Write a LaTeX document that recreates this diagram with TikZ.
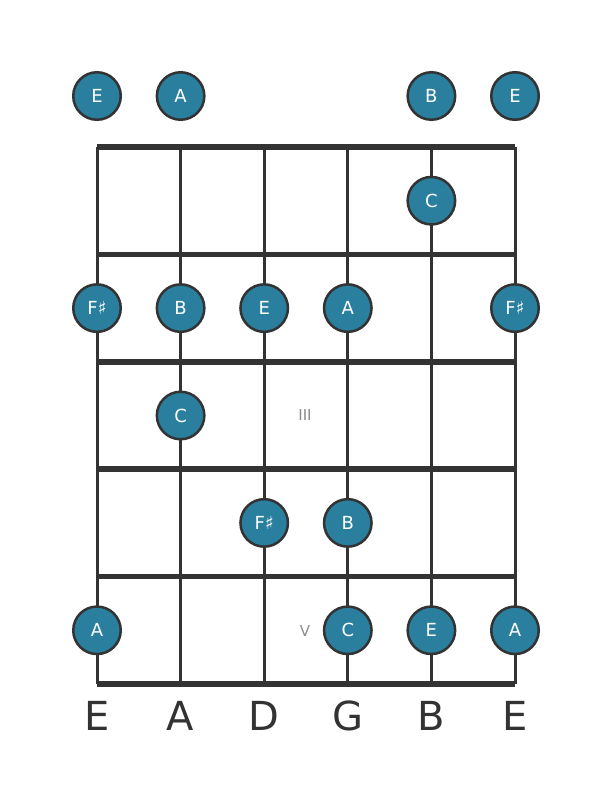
\documentclass[tikz,border=0pt]{standalone}
\usepackage{fontspec}
\setmainfont{DejaVu Sans}
\usepackage{xcolor}
\definecolor{notefill}{HTML}{2A7F9E}
\definecolor{lineclr}{HTML}{333333}
\definecolor{markclr}{HTML}{8A8A8A}

\begin{document}
\begin{tikzpicture}[x=1pt,y=-1pt]
        \useasboundingbox (0,0) rectangle (611,801);

        \tikzstyle{fret}=[lineclr,line width=5.5pt]
        \tikzstyle{gstring}=[lineclr,line width=3pt]
        \tikzstyle{note}=[circle,draw=lineclr,line width=2.5pt,fill=notefill,minimum size=47.5pt,inner sep=0pt,text=white,font=\fontsize{18}{18}\selectfont]
        \tikzstyle{strname}=[text=lineclr,font=\fontsize{40}{40}\selectfont]
        \tikzstyle{fretmark}=[text=markclr,font=\fontsize{15}{15}\selectfont]

        %% strings
        \draw [gstring] (97,147) -- (97,684);
        \draw [gstring] (180.6,147) -- (180.6,684);
        \draw [gstring] (264.2,147) -- (264.2,684);
        \draw [gstring] (347.8,147) -- (347.8,684);
        \draw [gstring] (431.4,147) -- (431.4,684);
        \draw [gstring] (515,147) -- (515,684);

        %% frets
        \draw [fret] (97,147) -- (515,147);
        \draw [fret] (97,254.4) -- (515,254.4);
        \draw [fret] (97,361.8) -- (515,361.8);
        \draw [fret] (97,469.2) -- (515,469.2);
        \draw [fret] (97,576.6) -- (515,576.6);
        \draw [fret] (97,684) -- (515,684);

        %% fret markers
        \node [fretmark] (m3) at (305,415) {III};
        \node [fretmark] (m5) at (305,631) {V};

        %% open strings
        \node [note] (o1) at (97,96) {E};
        \node [note] (o2) at (180.6,96) {A};
        \node [note] (o5) at (431.4,96) {B};
        \node [note] (o6) at (515,96) {E};

        %% fret 1
        \node [note] (f1s5) at (431.4,200.7) {C};

        %% fret 2
        \node [note] (f2s1) at (97,308.1) {F\char"266F};
        \node [note] (f2s2) at (180.6,308.1) {B};
        \node [note] (f2s3) at (264.2,308.1) {E};
        \node [note] (f2s4) at (347.8,308.1) {A};
        \node [note] (f2s6) at (515,308.1) {F\char"266F};

        %% fret 3
        \node [note] (f3s2) at (180.6,415.5) {C};

        %% fret 4
        \node [note] (f4s3) at (264.2,522.9) {F\char"266F};
        \node [note] (f4s4) at (347.8,522.9) {B};

        %% fret 5
        \node [note] (f5s1) at (97,630.3) {A};
        \node [note] (f5s4) at (347.8,630.3) {C};
        \node [note] (f5s5) at (431.4,630.3) {E};
        \node [note] (f5s6) at (515,630.3) {A};

        %% string names
        \node [strname] (n1) at (97,716) {E};
        \node [strname] (n2) at (180.6,716) {A};
        \node [strname] (n3) at (264.2,716) {D};
        \node [strname] (n4) at (347.8,716) {G};
        \node [strname] (n5) at (431.4,716) {B};
        \node [strname] (n6) at (515,716) {E};

    \end{tikzpicture}
\end{document}
